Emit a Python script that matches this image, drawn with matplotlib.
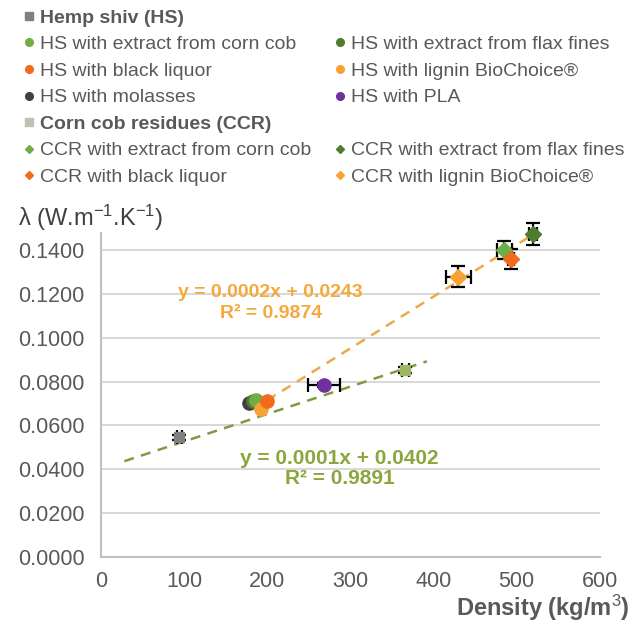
import matplotlib
matplotlib.use("Agg")
import matplotlib.pyplot as plt
from matplotlib.lines import Line2D

plt.rcParams['font.family'] = ['Liberation Sans', 'DejaVu Sans']
plt.rcParams['mathtext.fontset'] = 'custom'
plt.rcParams['mathtext.rm'] = 'Liberation Sans'
plt.rcParams['mathtext.it'] = 'Liberation Sans'

# series: label, density, lambda, x error, y error, marker, colour
labels = ['Hemp shiv (HS)', 'HS with extract from corn cob', 'HS with black liquor',
          'HS with molasses', 'Corn cob residues (CCR)', 'CCR with extract from corn cob',
          'CCR with black liquor', 'HS with extract from flax fines', 'HS with lignin BioChoice®',
          'HS with PLA', 'CCR with extract from flax fines', 'CCR with lignin BioChoice®']
density = [94, 187, 200, 178, 366, 485, 493, 183, 192, 268, 520, 430]
conductivity = [0.0545, 0.0716, 0.0711, 0.0702, 0.0853, 0.1400, 0.1358, 0.0712, 0.0675, 0.0784, 0.1473, 0.1277]
density_err = [3, 0, 0, 0, 4, 9, 4, 0, 0, 19, 5, 15]
conductivity_err = [0.0010, 0, 0, 0, 0.0012, 0.0040, 0.0045, 0, 0, 0.0008, 0.0050, 0.0047]
markers = ['s', 'o', 'o', 'o', 's', 'D', 'D', 'o', 'o', 'o', 'D', 'D']
colors = ['#808080', '#70AD47', '#F26B1D', '#404040', '#9DB565', '#70AD47', '#F26B1D',
          '#507C2E', '#F7A233', '#7030A0', '#507C2E', '#F7A233']
legend_colors = ['#808080', '#70AD47', '#F26B1D', '#404040', '#BFBFB2', '#70AD47', '#F26B1D',
                 '#507C2E', '#F7A233', '#7030A0', '#507C2E', '#F7A233']
draw_order = [0, 4, 3, 7, 1, 8, 2, 9, 11, 5, 6, 10]

# trend lines: slope, intercept, x range, equation text
trend_slope = [0.000236, 0.000125]
trend_intercept = [0.0243, 0.0402]
trend_xmin = [182, 28]
trend_xmax = [522, 392]
trend_eq = ['y = 0.0002x + 0.0243', 'y = 0.0001x + 0.0402']
trend_r2 = ['R² = 0.9874', 'R² = 0.9891']
trend_colors = ['#F5A83C', '#8AA63C']
trend_line_colors = ['#EFA849', '#7F9A45']

fig = plt.figure(figsize=(6.37, 6.26), dpi=100)
ax = fig.add_axes([0.1586, 0.110, 0.783, 0.518])

for k, (m, b, x0, x1, c) in enumerate(zip(trend_slope, trend_intercept, trend_xmin, trend_xmax, trend_line_colors)):
    ax.plot([x0, x1], [m * x0 + b, m * x1 + b], ls=(0, (4, 3)), color=c, lw=1.8, zorder=2)

handles = {}
for i in draw_order:
    ax.errorbar(density[i], conductivity[i], xerr=density_err[i] or None,
                yerr=conductivity_err[i] or None, fmt='none', ecolor='black',
                elinewidth=1.6, capsize=5, capthick=1.6, zorder=3, clip_on=False)
    ms = 9.5 if markers[i] == 'o' else (8.5 if markers[i] == 'D' else 6.5)
    ax.plot(density[i], conductivity[i], marker=markers[i], ms=ms, color=colors[i],
            ls='none', zorder=4, clip_on=False)
    lms = 5.5 if markers[i] == 'o' else (4.5 if markers[i] == 'D' else 6)
    handles[i] = Line2D([], [], marker=markers[i], ms=lms, color=legend_colors[i], ls='none')

# equations
text_x = [204, 287]
text_y1 = [0.1204, 0.0451]
text_y2 = [0.1108, 0.0360]
text_sizes = [14, 15]
for k in range(2):
    ax.text(text_x[k], text_y1[k], trend_eq[k], color=trend_colors[k], fontsize=text_sizes[k],
            fontweight='bold', ha='center', va='center', zorder=5)
    ax.text(text_x[k], text_y2[k], trend_r2[k], color=trend_colors[k], fontsize=text_sizes[k],
            fontweight='bold', ha='center', va='center', zorder=5)

ax.set_xlim(0, 600)
ax.set_ylim(0, 0.1477)
ax.set_xticks(range(0, 601, 100))
ax.set_yticks([i * 0.02 for i in range(8)])
ax.set_yticklabels([f'{i * 0.02:.4f}' for i in range(8)])
ax.tick_params(length=0, labelsize=15.5, colors='#595959', pad=10)
ax.tick_params(axis='y', pad=12)
ax.grid(axis='y', color='#D9D9D9', lw=1.5)
ax.set_axisbelow(True)
for s in ['top', 'right']:
    ax.spines[s].set_visible(False)
for s in ['left', 'bottom']:
    ax.spines[s].set_color('#BFBFBF')
    ax.spines[s].set_linewidth(1.5)

fig.text(18 / 637, 1 - 218 / 626, r'λ (W.m$^{-1}$.K$^{-1}$)', fontsize=17, color='#404040',
         ha='left', va='center')
fig.text(630 / 637, 1 - 608 / 626, 'Density (kg/m$^{3}$)', fontsize=17, color='#595959',
         fontweight='bold', ha='right', va='center')

# legend: two columns, blank slots next to the two group headers
blank = Line2D([], [], ls='none')
col1 = [0, 1, 2, 3, 4, 5, 6]
col2 = [None, 7, 8, 9, None, 10, 11]
leg_handles = [handles[i] for i in col1] + [blank if i is None else handles[i] for i in col2]
leg_labels = [labels[i] for i in col1] + ['' if i is None else labels[i] for i in col2]
leg = fig.legend(leg_handles, leg_labels, ncol=2, loc='upper left', bbox_to_anchor=(0.025, 0.998),
                 frameon=False, fontsize=14, handlelength=0.5, handletextpad=0.35,
                 columnspacing=1.2, labelspacing=0.46, borderaxespad=0)
for t in leg.get_texts():
    t.set_color('#595959')
    if t.get_text() in (labels[0], labels[4]):
        t.set_fontweight('bold')

fig.savefig('out.png', dpi=100)
